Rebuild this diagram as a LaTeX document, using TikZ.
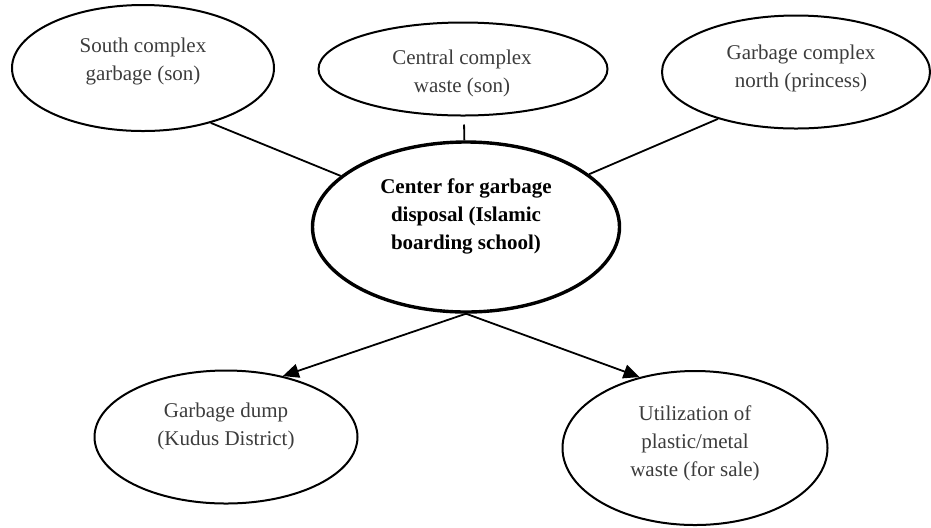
\documentclass[tikz,border=0pt]{standalone}
\usepackage{fontspec}
\setmainfont{Liberation Serif}
\usetikzlibrary{shapes.geometric,arrows.meta}
\definecolor{txtgray}{HTML}{3C3C3C}

\begin{document}
\begin{tikzpicture}[x=0.5pt,y=-0.5pt,
    font=\fontsize{10.5}{14}\selectfont,
    blob/.style={draw,ellipse,line width=1pt,inner sep=0pt},
    hub/.style={draw,ellipse,line width=1.7pt,inner sep=0pt},
    txt/.style={align=center,text=txtgray,inner sep=0pt},
    link/.style={line width=0.9pt},
    flow/.style={line width=0.9pt,-{Triangle[length=8pt,width=7pt]}}]
            \useasboundingbox (0,0) rectangle (931,527);

            \node[blob,minimum width=131pt,minimum height=63pt] (south) at (143,68){};
            \node[blob,minimum width=144.5pt,minimum height=46.5pt] (central) at (463,69){};
            \node[blob,minimum width=134pt,minimum height=56.5pt] (north) at (796,72){};
            \node[hub,minimum width=153.5pt,minimum height=85pt] (center) at (466,227){};
            \node[blob,minimum width=131.5pt,minimum height=66.5pt] (dump) at (226,437){};
            \node[blob,minimum width=132.5pt,minimum height=77pt] (sale) at (695,448){};

            \node[txt] (south-t) at (143,61){South complex\\garbage (son)};
            \node[txt] (central-t) at (462,73){Central complex\\waste (son)};
            \node[txt] (north-t) at (801,68){Garbage complex\\north (princess)};
            \node[txt,text=black,font=\fontsize{10.5}{14}\selectfont\bfseries] (center-t) at (466,216){Center for garbage\\disposal (Islamic\\boarding school)};
            \node[txt] (dump-t) at (226,426){Garbage dump\\(Kudus District)};
            \node[txt] (sale-t) at (695,443){Utilization of\\plastic/metal\\waste (for sale)};

            \draw[link] (south.-39) -- (center);
            \draw[link,shorten <=4pt] (central) -- (center);
            \draw[link] (north.211) -- (center);
            \draw[flow] (center.south) -- (dump.47);
            \draw[flow] (center.south) -- (sale.128);
\end{tikzpicture}
\end{document}
